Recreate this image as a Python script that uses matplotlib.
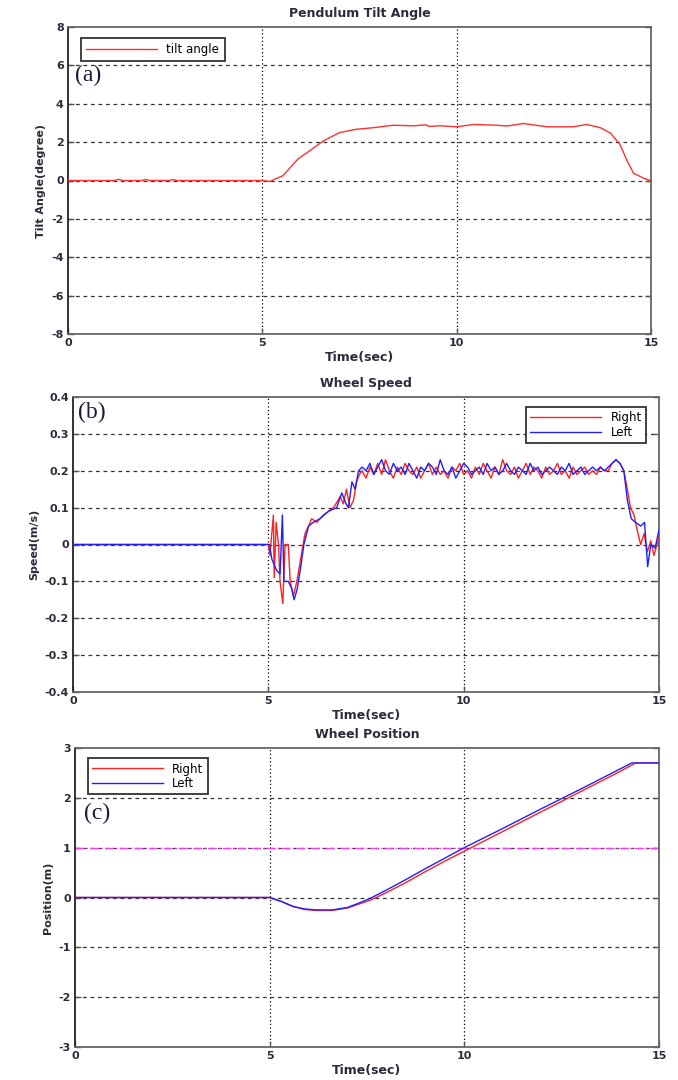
import numpy as np
import matplotlib
matplotlib.use("Agg")
import matplotlib.pyplot as plt

# ---------------- data ----------------
# (a) tilt angle
tilt_t = [0, 1.2, 1.3, 1.4, 1.9, 2.0, 2.1, 2.6, 2.7, 2.8, 5.0, 5.2, 5.3, 5.53, 5.70, 5.92, 6.22, 6.56,
          6.99, 7.42, 7.85, 8.37, 8.88, 9.2, 9.3, 9.57, 10.0, 10.43, 11.03, 11.3, 11.72, 12.32,
          13.0, 13.35, 13.7, 13.96, 14.2, 14.38, 14.55, 14.8, 14.98]
tilt_v = [0, 0, 0.06, 0, 0, 0.05, 0, 0, 0.05, 0, 0, -0.05, 0.05, 0.25, 0.63, 1.13, 1.55, 2.05,
          2.5, 2.67, 2.75, 2.88, 2.85, 2.9, 2.82, 2.85, 2.8, 2.92, 2.88, 2.84, 2.97, 2.8,
          2.8, 2.92, 2.75, 2.47, 1.88, 1.05, 0.38, 0.13, 0.0]

# (b) wheel speed
speed_pre_t_right = [0, 5.0, 5.04, 5.13, 5.15, 5.20, 5.26, 5.30, 5.37, 5.43, 5.51, 5.56, 5.64,
                     5.73, 5.81, 5.94, 6.03, 6.11, 6.24, 6.41, 6.67, 6.84, 6.92, 7.0, 7.09,
                     7.18, 7.26, 7.33]
speed_pre_v_right = [0, 0, -0.03, 0.08, -0.09, 0.06, 0.0, -0.10, -0.16, 0.0, 0.0, -0.10, -0.14,
                     -0.10, -0.05, 0.03, 0.05, 0.07, 0.06, 0.08, 0.10, 0.13, 0.11, 0.15, 0.10,
                     0.12, 0.17, 0.19]
speed_pre_t_left = [0, 5.03, 5.09, 5.21, 5.30, 5.36, 5.40, 5.51, 5.60, 5.66, 5.74, 5.83, 5.91,
                    6.03, 6.15, 6.32, 6.54, 6.75, 6.88, 6.99, 7.05, 7.14, 7.22, 7.31]
speed_pre_v_left = [0, 0, -0.04, -0.07, -0.08, 0.08, -0.10, -0.10, -0.12, -0.15, -0.12, -0.06,
                    0.0, 0.05, 0.06, 0.07, 0.09, 0.10, 0.14, 0.11, 0.10, 0.17, 0.15, 0.20]
# plateau, sampled every 0.1 s from 7.4 s to 14.0 s
speed_plateau_right = [0.20, 0.18, 0.21, 0.19, 0.22, 0.19, 0.23, 0.20, 0.18, 0.21,
                       0.19, 0.22, 0.20, 0.19, 0.21, 0.18, 0.20, 0.22, 0.19, 0.21,
                       0.19, 0.20, 0.18, 0.21, 0.20, 0.22, 0.19, 0.20, 0.18, 0.21,
                       0.19, 0.22, 0.20, 0.18, 0.21, 0.19, 0.23, 0.20, 0.19, 0.21,
                       0.18, 0.20, 0.22, 0.19, 0.21, 0.20, 0.18, 0.21, 0.19, 0.20,
                       0.22, 0.19, 0.20, 0.18, 0.21, 0.19, 0.20, 0.21, 0.19, 0.20,
                       0.19, 0.21, 0.20, 0.20, 0.22, 0.23, 0.22]
speed_plateau_left = [0.21, 0.20, 0.22, 0.19, 0.21, 0.23, 0.20, 0.19, 0.22, 0.20,
                      0.21, 0.19, 0.22, 0.20, 0.18, 0.21, 0.20, 0.22, 0.21, 0.19,
                      0.23, 0.20, 0.19, 0.21, 0.18, 0.20, 0.22, 0.21, 0.19, 0.20,
                      0.21, 0.19, 0.22, 0.20, 0.21, 0.19, 0.20, 0.22, 0.20, 0.19,
                      0.21, 0.20, 0.19, 0.22, 0.20, 0.21, 0.19, 0.20, 0.21, 0.20,
                      0.19, 0.21, 0.20, 0.22, 0.19, 0.20, 0.21, 0.19, 0.20, 0.21,
                      0.20, 0.21, 0.20, 0.21, 0.22, 0.23, 0.22]
speed_post_t_right = [14.1, 14.19, 14.27, 14.36, 14.44, 14.53, 14.62, 14.70, 14.79, 14.87, 15.0]
speed_post_v_right = [0.20, 0.15, 0.10, 0.08, 0.04, 0.0, 0.03, -0.02, 0.01, -0.03, 0.02]
speed_post_t_left = [14.1, 14.19, 14.29, 14.40, 14.53, 14.63, 14.71, 14.79, 14.90, 15.0]
speed_post_v_left = [0.20, 0.12, 0.07, 0.06, 0.05, 0.06, -0.06, 0.0, -0.01, 0.04]

# (c) wheel position
pos_t_right = [0, 5.0, 5.3, 5.6, 5.9, 6.2, 6.6, 7.0, 7.3, 7.6, 8.0, 8.5, 9.0, 9.5, 10.0,
               11.0, 12.0, 13.0, 14.0, 14.4, 15.0]
pos_v_right = [0, 0, -0.08, -0.18, -0.24, -0.26, -0.26, -0.21, -0.13, -0.05, 0.10, 0.30,
               0.52, 0.73, 0.93, 1.33, 1.73, 2.13, 2.53, 2.70, 2.70]
pos_t_left = [0, 5.0, 5.3, 5.6, 5.9, 6.2, 6.6, 7.0, 7.3, 7.6, 8.0, 8.5, 9.0, 9.5, 10.0,
              11.0, 12.0, 13.0, 14.0, 14.3, 15.0]
pos_v_left = [0, 0, -0.08, -0.18, -0.23, -0.25, -0.25, -0.20, -0.11, -0.01, 0.15, 0.36,
              0.58, 0.79, 1.00, 1.39, 1.79, 2.18, 2.58, 2.70, 2.70]
pos_ref = 1.0

x_ticks = [0, 5, 10, 15]
tilt_ticks = [-8, -6, -4, -2, 0, 2, 4, 6, 8]
speed_ticks = [-0.4, -0.3, -0.2, -0.1, 0, 0.1, 0.2, 0.3, 0.4]
pos_ticks = [-3, -2, -1, 0, 1, 2, 3]

# ---------------- assemble ----------------
plateau_t = list(np.round(np.arange(7.4, 14.0001, 0.1), 2))
speed_t_right = speed_pre_t_right + plateau_t + speed_post_t_right
speed_v_right = speed_pre_v_right + speed_plateau_right + speed_post_v_right
speed_t_left = speed_pre_t_left + plateau_t + speed_post_t_left
speed_v_left = speed_pre_v_left + speed_plateau_left + speed_post_v_left

TXT = '#2b2b3b'
plt.rcParams['font.family'] = ['DejaVu Sans']

fig = plt.figure(figsize=(6.78, 10.8), dpi=100)
ax_a = fig.add_axes([68/678, 1 - 334/1080, (651-68)/678, (334-27)/1080])
ax_b = fig.add_axes([73/678, 1 - 692/1080, (659-73)/678, (692-397)/1080])
ax_c = fig.add_axes([75/678, 1 - 1047/1080, (659-75)/678, (1047-748)/1080])


def style(ax, yticks, ylabel, title, yfmt):
    ax.set_xlim(0, 15)
    ax.set_ylim(yticks[0], yticks[-1])
    ax.set_xticks(x_ticks)
    ax.set_yticks(yticks)
    ax.set_yticklabels([yfmt(v) for v in yticks])
    ax.tick_params(direction='in', length=4, top=False, right=True, labelsize=8,
                   labelcolor=TXT, width=1, color='#555555', pad=3)
    for lab in ax.get_xticklabels() + ax.get_yticklabels():
        lab.set_fontweight('bold')
    for v in x_ticks[1:-1]:
        ax.axvline(v, color='black', ls=(0, (1, 2)), lw=0.9, zorder=1)
    for v in yticks[1:-1]:
        ax.axhline(v, color='#333333', ls=(0, (3, 3)), lw=0.9, zorder=1)
    for s in ax.spines.values():
        s.set_color('#666666')
        s.set_linewidth(1.3)
    ax.spines['left'].set_color('#222222')
    ax.set_xlabel('Time(sec)', fontsize=9, fontweight='bold', color=TXT, labelpad=2)
    ax.set_ylabel(ylabel, fontsize=8, fontweight='bold', color=TXT,
                  family=['Liberation Sans Narrow', 'DejaVu Sans'], labelpad=4)
    ax.set_title(title, fontsize=9, fontweight='bold', color=TXT, pad=7)


style(ax_a, tilt_ticks, 'Tilt Angle(degree)', 'Pendulum Tilt Angle', lambda v: f'{v:d}')
style(ax_b, speed_ticks, 'Speed(m/s)', 'Wheel Speed', lambda v: '0' if v == 0 else f'{v:.1f}')
style(ax_c, pos_ticks, 'Position(m)', 'Wheel Position', lambda v: f'{v:d}')

leg_kw = dict(fontsize=8.5, frameon=True, fancybox=False, edgecolor='#333333', framealpha=1)

ax_a.plot(tilt_t, tilt_v, color='#ff3030', lw=1.0, label='tilt angle', zorder=3)
lg = ax_a.legend(loc='upper left', borderpad=0.45, handlelength=6, bbox_to_anchor=(0.012, 0.985),
                 **leg_kw)
lg.get_frame().set_linewidth(1.3)

ax_b.plot(speed_t_right, speed_v_right, color='#ff2020', lw=1.0, label='Right', zorder=3)
ax_b.plot(speed_t_left, speed_v_left, color='#2020ff', lw=1.0, label='Left', zorder=3)
lg = ax_b.legend(loc='upper right', borderpad=0.35, handlelength=6, labelspacing=0.15,
                 bbox_to_anchor=(0.988, 0.985), **leg_kw)
lg.get_frame().set_linewidth(1.3)

ax_c.axhline(pos_ref, color='#ee44ee', ls='-.', lw=1.0, zorder=2)
ax_c.plot(pos_t_right, pos_v_right, color='#ff2020', lw=1.0, label='Right', zorder=3)
ax_c.plot(pos_t_left, pos_v_left, color='#2020ff', lw=1.0, label='Left', zorder=3)
lg = ax_c.legend(loc='upper left', borderpad=0.35, handlelength=6, labelspacing=0.15,
                 bbox_to_anchor=(0.012, 0.985), **leg_kw)
lg.get_frame().set_linewidth(1.3)

for ax, lab, xy in [(ax_a, '(a)', (0.012, 0.875)), (ax_b, '(b)', (0.008, 0.985)),
                    (ax_c, '(c)', (0.015, 0.815))]:
    ax.text(xy[0], xy[1], lab, transform=ax.transAxes, fontsize=17,
            family=['Liberation Serif', 'DejaVu Serif'], color='#1a1a3a', va='top', ha='left',
            zorder=4)

fig.savefig('out.png', dpi=100)
